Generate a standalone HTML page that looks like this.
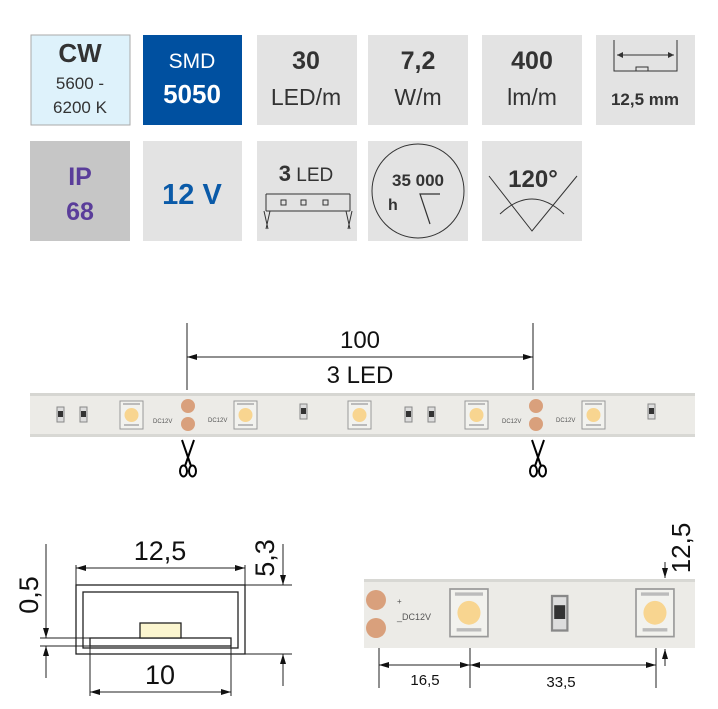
<!DOCTYPE html>
<html><head><meta charset="utf-8"><style>
html,body{margin:0;padding:0;background:#fff;width:718px;height:709px;overflow:hidden}
svg{display:block}
text{font-family:"Liberation Sans","DejaVu Sans",sans-serif}
</style></head><body>
<svg width="718" height="709" viewBox="0 0 718 709" xmlns="http://www.w3.org/2000/svg">
<defs>
<marker id="a" viewBox="0 0 10 6" refX="10" refY="3" markerWidth="10" markerHeight="6" orient="auto-start-reverse" markerUnits="userSpaceOnUse"><path d="M0,0 L10,3 L0,6 z" fill="#111"/></marker>
<g id="led"><rect x="0" y="0" width="23" height="28" fill="#f2f2ee" stroke="#999" stroke-width="1"/><circle cx="11.5" cy="14" r="7" fill="#f8d590"/><path d="M3,3 h17 M4,24 h15" stroke="#bbb" stroke-width="2"/></g>
<g id="res"><rect x="0" y="0" width="7" height="15" fill="#ddd" stroke="#888" stroke-width="1"/><rect x="1" y="4" width="5" height="6" fill="#333"/></g>
<g id="sc"><path d="M-6,0 L3,26 M6,0 L-3,26" stroke="#000" stroke-width="2" fill="none"/><ellipse cx="-4.5" cy="31" rx="3.5" ry="5.5" fill="none" stroke="#000" stroke-width="2"/><ellipse cx="4.5" cy="31" rx="3.5" ry="5.5" fill="none" stroke="#000" stroke-width="2"/></g>
</defs>

<rect x="31" y="35" width="99" height="90" fill="#def2fb" stroke="#aaa" stroke-width="1"/>
<text x="80" y="62" text-anchor="middle" font-size="26" font-weight="bold" fill="#333">CW</text>
<text x="80" y="89" text-anchor="middle" font-size="17" fill="#333">5600 -</text>
<text x="80" y="113" text-anchor="middle" font-size="17" fill="#333">6200 K</text>

<rect x="143" y="35" width="99" height="90" fill="#0050a0"/>
<text x="192" y="68" text-anchor="middle" font-size="21" fill="#fff">SMD</text>
<text x="192" y="103" text-anchor="middle" font-size="26" font-weight="bold" fill="#fff">5050</text>

<rect x="257" y="35" width="100" height="90" fill="#e3e3e3"/>
<text x="306" y="69" text-anchor="middle" font-size="25" font-weight="bold" fill="#333">30</text>
<text x="306" y="105" text-anchor="middle" font-size="23" fill="#333">LED/m</text>

<rect x="368" y="35" width="100" height="90" fill="#e3e3e3"/>
<text x="418" y="69" text-anchor="middle" font-size="25" font-weight="bold" fill="#333">7,2</text>
<text x="418" y="105" text-anchor="middle" font-size="23" fill="#333">W/m</text>

<rect x="482" y="35" width="100" height="90" fill="#e3e3e3"/>
<text x="532" y="69" text-anchor="middle" font-size="25" font-weight="bold" fill="#333">400</text>
<text x="532" y="105" text-anchor="middle" font-size="23" fill="#333">lm/m</text>

<rect x="596" y="35" width="99" height="90" fill="#e3e3e3"/>
<path d="M614,40 v31 h63 v-31 M617,55 h57" stroke="#333" stroke-width="1" fill="none"/>
<path d="M617,55 l6,-3 v6z M674,55 l-6,-3 v6z" fill="#333"/>
<rect x="636" y="67" width="12" height="4" fill="none" stroke="#333" stroke-width="1"/>
<text x="645" y="105" text-anchor="middle" font-size="17" font-weight="bold" fill="#333">12,5 mm</text>

<rect x="30" y="141" width="100" height="100" fill="#c6c6c6"/>
<text x="80" y="185" text-anchor="middle" font-size="25" font-weight="bold" fill="#5a3d9a">IP</text>
<text x="80" y="220" text-anchor="middle" font-size="25" font-weight="bold" fill="#5a3d9a">68</text>

<rect x="143" y="141" width="99" height="100" fill="#e3e3e3"/>
<text x="192" y="204" text-anchor="middle" font-size="29" font-weight="bold" fill="#0a5aa8">12 V</text>

<rect x="257" y="141" width="100" height="100" fill="#e3e3e3"/>
<text x="306" y="181" text-anchor="middle" font-size="19" fill="#333"><tspan font-weight="bold" font-size="22">3</tspan> LED</text>
<path d="M266,194 h84 M266,211 h84 M266,194 v17 M350,194 v17" stroke="#333" stroke-width="1" fill="none"/>
<rect x="281" y="200" width="5" height="5" fill="none" stroke="#333"/>
<rect x="301" y="200" width="5" height="5" fill="none" stroke="#333"/>
<rect x="323" y="200" width="5" height="5" fill="none" stroke="#333"/>
<path d="M264,211 l4,18 M270,211 l-4,18 M346,211 l4,18 M352,211 l-4,18" stroke="#333" stroke-width="1"/>

<rect x="368" y="141" width="100" height="100" fill="#e3e3e3"/>
<ellipse cx="418" cy="191" rx="46" ry="47" fill="none" stroke="#333" stroke-width="1"/>
<text x="418" y="186" text-anchor="middle" font-size="17" font-weight="bold" fill="#333">35 000</text>
<text x="388" y="210" font-size="16" font-weight="bold" fill="#333">h</text>
<path d="M440,194 h-20 l10,30" fill="none" stroke="#333" stroke-width="1.2"/>

<rect x="482" y="141" width="100" height="100" fill="#e3e3e3"/>
<text x="533" y="187" text-anchor="middle" font-size="24" font-weight="bold" fill="#333">120°</text>
<path d="M489,176 l43,55 l45,-55" fill="none" stroke="#333" stroke-width="1"/>
<path d="M500,214 q32,-30 64,0" fill="none" stroke="#333" stroke-width="1"/>

<path d="M187,323 v67 M533,323 v67" stroke="#222" stroke-width="1"/>
<line x1="187" y1="357" x2="533" y2="357" stroke="#222" stroke-width="1" marker-start="url(#a)" marker-end="url(#a)"/>
<text x="360" y="348" text-anchor="middle" font-size="24" fill="#111">100</text>
<text x="360" y="383" text-anchor="middle" font-size="24" fill="#111">3 LED</text>

<rect x="30" y="393" width="665" height="44" fill="#ecebe7"/>
<rect x="30" y="393" width="665" height="3" fill="#d6d6d2"/>
<rect x="30" y="434" width="665" height="3" fill="#d8d8d4"/>
<use href="#res" x="57" y="407"/><use href="#res" x="80" y="407"/>
<use href="#led" x="120" y="401"/><use href="#led" x="234" y="401"/>
<use href="#res" x="300" y="404"/>
<use href="#led" x="348" y="401"/>
<use href="#res" x="405" y="407"/><use href="#res" x="428" y="407"/>
<use href="#led" x="465" y="401"/><use href="#led" x="582" y="401"/>
<use href="#res" x="648" y="404"/>
<circle cx="188" cy="406" r="7" fill="#d9a07c"/><circle cx="188" cy="424" r="7" fill="#d9a07c"/>
<circle cx="536" cy="406" r="7" fill="#d9a07c"/><circle cx="536" cy="424" r="7" fill="#d9a07c"/>
<text x="153" y="423" font-size="6" fill="#555">DC12V</text><text x="208" y="422" font-size="6" fill="#555">DC12V</text>
<text x="502" y="423" font-size="6" fill="#555">DC12V</text><text x="556" y="422" font-size="6" fill="#555">DC12V</text>

<use href="#sc" x="188" y="440"/><use href="#sc" x="538" y="440"/>

<rect x="76" y="585" width="169" height="69" fill="none" stroke="#222" stroke-width="1.3"/>
<rect x="83" y="592" width="155" height="56" fill="none" stroke="#222" stroke-width="1.3"/>
<rect x="90" y="638" width="141" height="8" fill="#fff" stroke="#222" stroke-width="1.3"/>
<rect x="140" y="623" width="41" height="15" fill="#fbf5cf" stroke="#222" stroke-width="1.3"/>
<path d="M76,585 v-20 M245,585 v-20 M90,646 v50 M231,646 v50" stroke="#222" stroke-width="1"/>
<line x1="76" y1="568" x2="245" y2="568" stroke="#222" marker-start="url(#a)" marker-end="url(#a)"/>
<line x1="90" y1="692" x2="231" y2="692" stroke="#222" marker-start="url(#a)" marker-end="url(#a)"/>
<text x="160" y="560" text-anchor="middle" font-size="27" fill="#111">12,5</text>
<text x="160" y="684" text-anchor="middle" font-size="27" fill="#111">10</text>
<path d="M40,638 h50 M40,646 h50 M245,585 h47 M245,654 h47" stroke="#222" stroke-width="1"/>
<line x1="46" y1="544" x2="46" y2="638" stroke="#222" marker-end="url(#a)"/>
<line x1="46" y1="678" x2="46" y2="646" stroke="#222" marker-end="url(#a)"/>
<line x1="283" y1="544" x2="283" y2="585" stroke="#222" marker-end="url(#a)"/>
<line x1="283" y1="686" x2="283" y2="654" stroke="#222" marker-end="url(#a)"/>
<text transform="translate(38,595) rotate(-90)" text-anchor="middle" font-size="27" fill="#111">0,5</text>
<text transform="translate(274,558) rotate(-90)" text-anchor="middle" font-size="27" fill="#111">5,3</text>

<rect x="364" y="579" width="331" height="69" fill="#ecebe7"/>
<rect x="364" y="579" width="331" height="3" fill="#d8d8d4"/>
<circle cx="376" cy="600" r="10" fill="#d9a07c"/><circle cx="376" cy="628" r="10" fill="#d9a07c"/>
<text x="397" y="604" font-size="8" fill="#555">+</text>
<text x="397" y="620" font-size="9" fill="#555">_DC12V</text>
<g transform="translate(450,589) scale(1.65,1.7)"><use href="#led"/></g>
<g transform="translate(552,596) scale(2.2,2.3)"><use href="#res"/></g>
<g transform="translate(636,589) scale(1.65,1.7)"><use href="#led"/></g>
<path d="M379,648 v40 M470,648 v40 M656,648 v40" stroke="#222" stroke-width="1"/>
<line x1="379" y1="665" x2="470" y2="665" stroke="#222" marker-start="url(#a)" marker-end="url(#a)"/>
<line x1="470" y1="665" x2="656" y2="665" stroke="#222" marker-start="url(#a)" marker-end="url(#a)"/>
<text x="425" y="685" text-anchor="middle" font-size="15" fill="#111">16,5</text>
<text x="561" y="687" text-anchor="middle" font-size="15" fill="#111">33,5</text>
<line x1="665" y1="562" x2="665" y2="578" stroke="#222" marker-end="url(#a)"/>
<line x1="665" y1="666" x2="665" y2="649" stroke="#222" marker-end="url(#a)"/>
<text transform="translate(690,548) rotate(-90)" text-anchor="middle" font-size="26" fill="#111">12,5</text>
</svg>
</body></html>
